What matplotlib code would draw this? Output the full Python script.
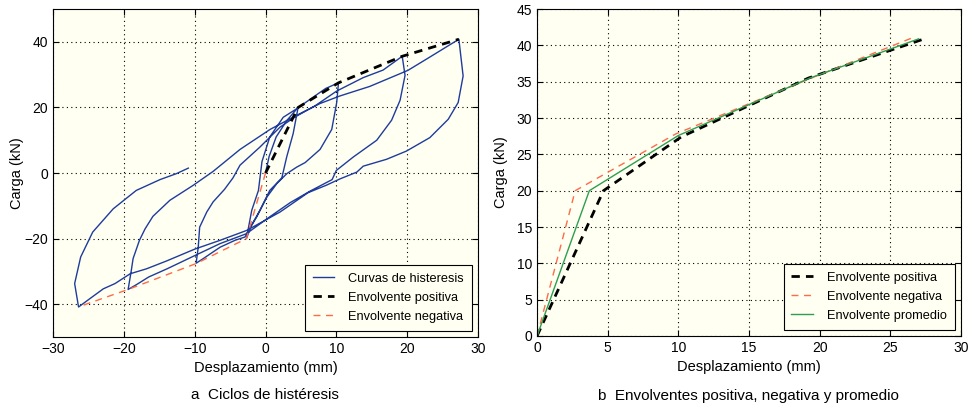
import matplotlib
matplotlib.use('Agg')
import matplotlib.pyplot as plt

plt.rcParams['font.family'] = ['Liberation Sans', 'DejaVu Sans']

# Hysteresis loops (displacement mm, load kN), traced in test order
hyst_x = [0, 0.5, 1.5, 3.0, 4.6,
          3.9, 3.0, 2.3, 0.6, -0.8, -2.0, -2.7,
          -1.95, -1.0, -0.5, 0.6, 2.5, 4.4, 6.5, 8.5, 10.3,
          10.05, 9.35, 7.7, 5.6, 4.4, 3.0, 1.6, 0.2, -1.25, -2.4, -2.9, -4.3, -6.4, -8.8, -9.8,
          -9.5, -9.3, -8.3, -7.4, -5.8, -4.6, -3.6, -0.8, 2.05, 4.16, 7.0, 10.05, 13.8, 16.6, 19.3,
          19.7, 19.0, 17.8, 15.7, 12.4, 10.0, 9.4, 6.3, 3.5, 0.5, -2.7, -6.4, -10.6, -13.9, -16.5, -18.2, -19.4,
          -18.95, -18.7, -17.8, -17.0, -15.9, -13.5, -10.25, -7.4, -3.6, 0.64, 4.4, 7.7, 10.5, 14.7, 20.1, 23.0, 27.3,
          27.9, 27.2, 25.8, 23.2, 19.9, 17.1, 13.8, 12.9, 10.5, 8.6, 6.0, 2.04, -2.66, -6.4, -10.0, -13.96,
          -16.8, -19.1, -21.25, -22.9, -24.8, -26.4,
          -26.95, -26.1, -24.4, -21.5, -18.25, -14.9, -12.6, -10.9]
hyst_y = [0, 5, 11, 16, 20,
          12, 5, -1.5, -5.3, -11.4, -16, -20,
          -11.4, -5.3, 3.5, 11, 17, 19.6, 22.8, 25.8, 27.5,
          21.5, 13.3, 7.2, 3.2, 1.8, -0.2, -3.2, -7.3, -13.4, -17.5, -19.5, -20.5, -22.6, -26.1, -27.5,
          -22.6, -16.5, -11.9, -8.8, -5.0, -1.5, 2.4, 7.9, 14.0, 17.1, 20.5, 25.0, 29.1, 31.4, 35.6,
          29.8, 22.2, 16.1, 10.0, 4.9, 0.8, -2.0, -5.5, -9.0, -13.5, -18.5, -21.5, -25.8, -29.2, -31.7, -34.0, -35.5,
          -29.7, -26.1, -20.5, -17.0, -13.2, -8.3, -3.8, 0.5, 7.2, 13.3, 17.6, 21.2, 23.5, 26.4, 31.3, 35.1, 40.8,
          29.6, 21.5, 16.4, 10.8, 6.7, 4.2, 2.1, 0.3, -1.8, -3.7, -6.0, -11.9, -17.5, -20.5, -23.2, -26.8,
          -29.2, -30.7, -33.7, -35.3, -38.3, -40.85,
          -33.7, -25.6, -18.0, -10.9, -5.3, -2.0, -0.2, 1.5]

# Envelopes
env_pos_x = [0, 4.6, 10.3, 19.3, 27.3]
env_pos_y = [0, 20, 27.5, 35.6, 40.8]
env_neg_x = [0, -2.7, -9.8, -19.4, -26.4]
env_neg_y = [0, -20, -27.6, -35.5, -40.8]

# Envelopes in absolute values (panel b)
b_pos_x = [0, 4.7, 10.2, 19.2, 27.4]
b_pos_y = [0, 20, 27.4, 35.5, 40.9]
b_neg_x = [0, 2.7, 9.8, 19.4, 26.5]
b_neg_y = [0, 20, 27.8, 35.5, 41.0]
b_avg_x = [0, 3.7, 10.0, 19.3, 27.0]
b_avg_y = [0, 20, 27.6, 35.5, 40.9]

bg = '#fffff2'
c_blue = '#1f3c9c'
c_red = '#ff6a4a'
c_green = '#2e9e4f'

fig = plt.figure(figsize=(9.68, 4.12), dpi=100)
ax1 = fig.add_axes([0.0548, 0.182, 0.439, 0.796])
ax2 = fig.add_axes([0.5548, 0.1845, 0.438, 0.7935])

ax1.plot(hyst_x, hyst_y, color=c_blue, lw=1.0, label='Curvas de histeresis')
ax1.plot(env_pos_x, env_pos_y, color='black', lw=2.0, ls=(0, (3, 2.2)), label='Envolvente positiva')
ax1.plot(env_neg_x, env_neg_y, color=c_red, lw=1.0, ls=(0, (5, 4)), label='Envolvente negativa')
ax1.set_xlim(-30, 30)
ax1.set_ylim(-50, 50)
ax1.set_xticks(range(-30, 31, 10))
ax1.set_yticks([-40, -20, 0, 20, 40])

ax2.plot(b_pos_x, b_pos_y, color='black', lw=2.0, ls=(0, (3, 2.2)), label='Envolvente positiva')
ax2.plot(b_neg_x, b_neg_y, color=c_red, lw=1.0, ls=(0, (5, 4)), label='Envolvente negativa')
ax2.plot(b_avg_x, b_avg_y, color=c_green, lw=1.0, label='Envolvente promedio')
ax2.set_xlim(0, 30)
ax2.set_ylim(0, 45)
ax2.set_xticks(range(0, 31, 5))
ax2.set_yticks(range(0, 46, 5))

for ax, ypad in ((ax1, 0), (ax2, 6)):
    ax.set_facecolor(bg)
    ax.grid(True, color='black', ls=(0, (1, 3)), lw=0.8)
    ax.tick_params(direction='in', top=True, right=True, labelsize=10, length=4, width=0.8)
    ax.set_xlabel('Desplazamiento (mm)', fontsize=10.5, labelpad=4)
    ax.set_ylabel('Carga (kN)', fontsize=10.5, labelpad=ypad)
    for s in ax.spines.values():
        s.set_linewidth(0.8)
    leg = ax.legend(loc='lower right', fontsize=9.2, fancybox=False, framealpha=1,
                    edgecolor='black', facecolor=bg, handlelength=1.7,
                    handletextpad=1.1, labelspacing=0.55, borderpad=0.6,
                    borderaxespad=0.5)
    leg.get_frame().set_linewidth(0.8)

fig.text(265 / 968, 1 - 395 / 412, 'a  Ciclos de histéresis', ha='center', va='center', fontsize=11)
fig.text(748 / 968, 1 - 396 / 412, 'b  Envolventes positiva, negativa y promedio', ha='center', va='center', fontsize=11)

fig.savefig('out.png', dpi=100)
